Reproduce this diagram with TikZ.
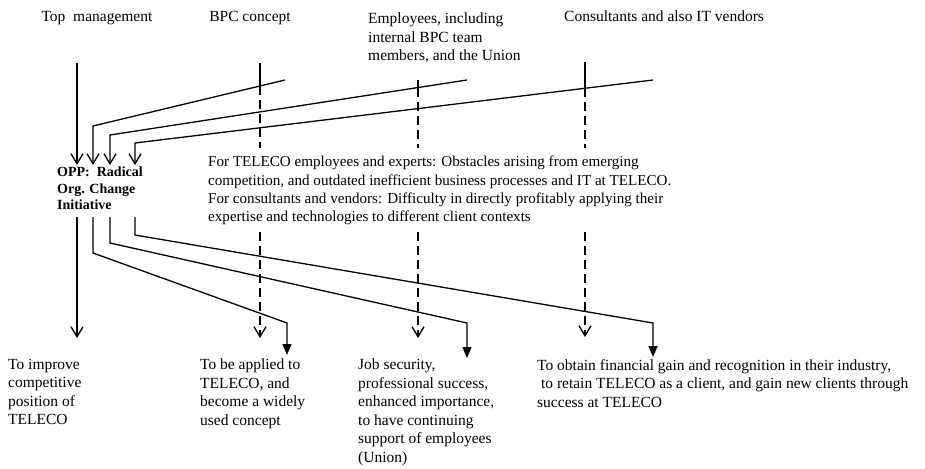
\documentclass[tikz,border=0pt]{standalone}
\usepackage{fontspec}
\setmainfont{Liberation Serif}
\usetikzlibrary{arrows.meta}
\begin{document}
\begin{tikzpicture}[x=1pt,y=-1pt,
  link/.style={line width=1.3pt,line join=miter},
  openhead/.style={link,-{Straight Barb[width=12pt,length=10pt]}},
  filledhead/.style={link,-{Triangle[width=9pt,length=11pt]}},
  dashline/.style={link,dash pattern=on 9pt off 5pt},
  lbl/.style={inner sep=0pt,font=\fontsize{15.5}{18.5}\selectfont,align=left},
  midtext/.style={lbl,font=\fontsize{15.1}{18.2}\selectfont},
  oppbox/.style={inner sep=0pt,font=\bfseries\fontsize{14}{16.5}\selectfont,align=left},
]
\useasboundingbox (0,0) rectangle (925,468);

% stakeholder headings
\node[lbl,anchor=base] (tm) at (97,22) {Top\ \ management};
\node[lbl,anchor=base] (bpc) at (250,22) {BPC concept};
\node[lbl,anchor=north west] (emp) at (368,13) {Employees, including\\internal BPC team\\members, and the Union};
\node[lbl,anchor=base west] (cons) at (564,22) {Consultants and also IT vendors};

% the opportunity
\node[oppbox,anchor=north west] (opp) at (57,167) {OPP:\ \ Radical\\Org. Change\\Initiative};

% the problem statement
\node[midtext,anchor=north west] (prob) at (208,156) {For TELECO employees and experts: Obstacles arising from emerging\\competition, and outdated inefficient business processes and IT at TELECO.\\For consultants and vendors: Difficulty in directly profitably applying their\\expertise and technologies to different client contexts};

% goals
\node[lbl,anchor=north west] (g1) at (8,359) {To improve\\competitive\\position of\\TELECO};
\node[lbl,anchor=north west] (g2) at (200,359) {To be applied to\\TELECO, and\\become a widely\\used concept};
\node[lbl,anchor=north west] (g3) at (358,359) {Job security,\\professional success,\\enhanced importance,\\to have continuing\\support of employees\\(Union)};
\node[lbl,anchor=north west] (g4) at (537,359) {To obtain financial gain and recognition in their industry,\\\ to retain TELECO as a client, and gain new clients through\\success at TELECO};

% anchor points of the connectors
\coordinate (tmTop) at (77,63);
\coordinate (in0) at (77,165);
\coordinate (in1) at (93,165);
\coordinate (in2) at (110,165);
\coordinate (in3) at (135,165);
\coordinate (s1) at (285,80);
\coordinate (k1) at (93,126);
\coordinate (s2) at (467,80);
\coordinate (k2) at (110,135);
\coordinate (s3) at (653,80);
\coordinate (k3) at (135,143);

\coordinate (bpcTop) at (260,63);
\coordinate (bpcX) at (260,86);
\coordinate (bpcEnd) at (260,148);
\coordinate (bpcLow) at (260,232);
\coordinate (bpcTip) at (260,338);

\coordinate (empTop) at (418,80);
\coordinate (empX) at (418,88);
\coordinate (empEnd) at (418,148);
\coordinate (empLow) at (418,232);
\coordinate (empTip) at (418,338);

\coordinate (consTop) at (585,62);
\coordinate (consX) at (585,88);
\coordinate (consEnd) at (585,148);
\coordinate (consLow) at (585,232);
\coordinate (consTip) at (585,337);

\coordinate (out0) at (77,217);
\coordinate (out1) at (93,217);
\coordinate (out2) at (110,217);
\coordinate (out3) at (135,217);
\coordinate (tmTip) at (77,338);
\coordinate (b1) at (93,253);
\coordinate (c1) at (287,323);
\coordinate (e1) at (287,355);
\coordinate (b2) at (110,243);
\coordinate (c2) at (467,323);
\coordinate (e2) at (467,358);
\coordinate (b3) at (135,235);
\coordinate (c3) at (653,323);
\coordinate (e3) at (653,357);

% stakeholders feeding into the opportunity
\draw[openhead] (tmTop) -- (in0);
\draw[openhead] (s1) -- (k1) -- (in1);
\draw[openhead] (s2) -- (k2) -- (in2);
\draw[openhead] (s3) -- (k3) -- (in3);

% stakeholder perception lines through the problem
\draw[link] (bpcTop) -- (bpcX);
\draw[dashline] (bpcX) -- (bpcEnd);
\draw[dashline,-{Straight Barb[width=12pt,length=10pt]}] (bpcLow) -- (bpcTip);
\draw[link] (empTop) -- (empX);
\draw[dashline] (empX) -- (empEnd);
\draw[dashline,-{Straight Barb[width=12pt,length=10pt]}] (empLow) -- (empTip);
\draw[link] (consTop) -- (consX);
\draw[dashline] (consX) -- (consEnd);
\draw[dashline,-{Straight Barb[width=12pt,length=10pt]}] (consLow) -- (consTip);

% opportunity leading to the goals
\draw[openhead] (out0) -- (tmTip);
\draw[filledhead] (out1) -- (b1) -- (c1) -- (e1);
\draw[filledhead] (out2) -- (b2) -- (c2) -- (e2);
\draw[filledhead] (out3) -- (b3) -- (c3) -- (e3);
\end{tikzpicture}
\end{document}
